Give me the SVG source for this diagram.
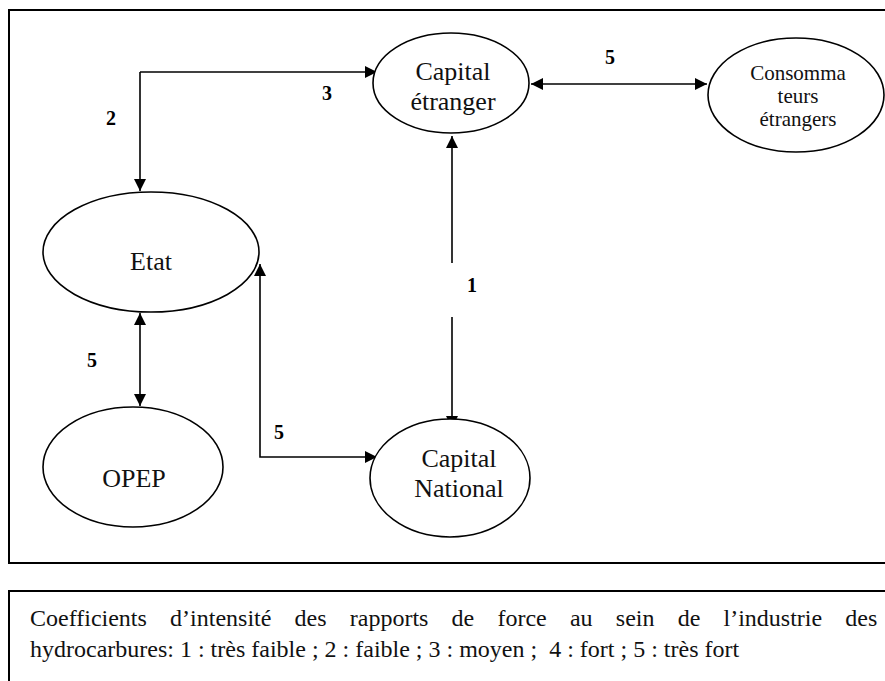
<svg xmlns="http://www.w3.org/2000/svg" width="885" height="681" viewBox="0 0 885 681">
<defs>
<marker id="ah" viewBox="0 0 10 10" refX="10" refY="5" markerWidth="14" markerHeight="12" markerUnits="userSpaceOnUse" orient="auto-start-reverse">
<path d="M0,0 L10,5 L0,10 Z" fill="#000"/>
</marker>
<style>
.frame{fill:none;stroke:#000;stroke-width:2}
.node{fill:#fff;stroke:#000;stroke-width:1.6}
.t{font-size:26px;fill:#111;text-anchor:middle}
.ts{font-size:21px;fill:#111;text-anchor:middle}
.lbl{font-size:20px;font-weight:bold;fill:#000;text-anchor:middle}
.c{fill:none;stroke:#000;stroke-width:1.6}
.leg{font-size:24px;fill:#111}
</style>
</defs>
<rect width="885" height="681" fill="#fff"/>
<rect class="frame" x="9" y="10" width="890" height="553"/>
<rect class="frame" x="9" y="591" width="890" height="100"/>

<g font-family="'Liberation Serif', 'DejaVu Serif', serif">
<g id="connectors">
<polyline class="c" points="140,72 377,72" marker-end="url(#ah)"/>
<polyline class="c" points="140,72 140,191" marker-end="url(#ah)"/>
<line class="c" x1="531" y1="84" x2="707" y2="84" marker-start="url(#ah)" marker-end="url(#ah)"/>
<line class="c" x1="452" y1="136" x2="452" y2="428" marker-start="url(#ah)" marker-end="url(#ah)"/>
<line class="c" x1="140" y1="313" x2="140" y2="406" marker-start="url(#ah)" marker-end="url(#ah)"/>
<polyline class="c" points="260,264 260,457 377,457" marker-start="url(#ah)" marker-end="url(#ah)"/>
<rect x="446" y="263" width="14" height="54" fill="#fff"/>
<text class="lbl" x="327" y="100">3</text>
<text class="lbl" x="111" y="125">2</text>
<text class="lbl" x="610" y="64">5</text>
<text class="lbl" x="472" y="292">1</text>
<text class="lbl" x="92" y="367">5</text>
<text class="lbl" x="279" y="439">5</text>
</g>

<g id="capital-etranger">
<ellipse class="node" cx="451" cy="83" rx="78" ry="50"/>
<text class="t" x="453" y="80">Capital</text>
<text class="t" x="453" y="110">étranger</text>
</g>
<g id="consommateurs">
<ellipse class="node" cx="796" cy="95" rx="88" ry="57"/>
<text class="ts" x="798" y="80">Consomma</text>
<text class="ts" x="798" y="103">teurs</text>
<text class="ts" x="798" y="126">étrangers</text>
</g>
<g id="etat">
<ellipse class="node" cx="151" cy="252" rx="108" ry="60"/>
<text class="t" x="151" y="270">Etat</text>
</g>
<g id="opep">
<ellipse class="node" cx="133" cy="467" rx="90" ry="60"/>
<text class="t" x="134" y="487">OPEP</text>
</g>
<g id="capital-national">
<ellipse class="node" cx="450" cy="478" rx="80" ry="59"/>
<text class="t" x="459" y="467">Capital</text>
<text class="t" x="459" y="497">National</text>
</g>

<g id="legend">
<text class="leg" x="30" y="626" word-spacing="17.2">Coefficients d’intensité des rapports de force au sein de l’industrie des</text>
<text class="leg" x="30" y="657" xml:space="preserve">hydrocarbures: 1 : très faible ; 2 : faible ; 3 : moyen ;  4 : fort ; 5 : très fort</text>
</g>
</g>
</svg>
